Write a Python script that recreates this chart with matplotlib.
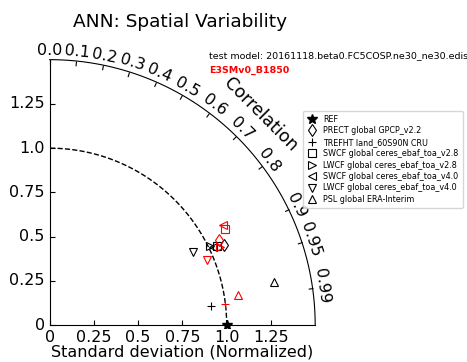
import numpy as np
import matplotlib
matplotlib.use("Agg")
import matplotlib.pyplot as plt
from matplotlib.projections import PolarAxes
import mpl_toolkits.axisartist.floating_axes as FA
import mpl_toolkits.axisartist.grid_finder as GF

# ---------------- data ----------------
variables = ["PRECT global GPCP_v2.2", "TREFHT land_60S90N CRU",
             "SWCF global ceres_ebaf_toa_v2.8", "LWCF global ceres_ebaf_toa_v2.8",
             "SWCF global ceres_ebaf_toa_v4.0", "LWCF global ceres_ebaf_toa_v4.0",
             "PSL global ERA-Interim"]
markers = ["d", "+", "s", ">", "<", "v", "^"]

test_std = [1.086, 0.916, 1.043, 1.007, 1.023, 0.909, 1.292]
test_corr = [0.908, 0.993, 0.904, 0.897, 0.902, 0.889, 0.982]

ref_model_std = [1.074, 0.996, 1.132, 1.057, 1.131, 0.961, 1.076]
ref_model_corr = [0.893, 0.993, 0.877, 0.909, 0.866, 0.923, 0.987]

corr_ticks = [0.0, 0.1, 0.2, 0.3, 0.4, 0.5, 0.6, 0.7, 0.8, 0.9, 0.95, 0.99]
std_ticks = [0, 0.25, 0.5, 0.75, 1.0, 1.25]
std_labels = ["0", "0.25", "0.5", "0.75", "1.0", "1.25"]
refstd = 1.0
smax = 1.5

# ---------------- figure ----------------
fig = plt.figure(figsize=(4.67, 3.62), dpi=100)

tr = PolarAxes.PolarTransform(apply_theta_transforms=False)
tlocs = np.arccos(corr_ticks)
gl1 = GF.FixedLocator(tlocs)
tf1 = GF.DictFormatter(dict(zip(tlocs, map(str, corr_ticks))))
gl2 = GF.FixedLocator(std_ticks)
tf2 = GF.DictFormatter(dict(zip(std_ticks, std_labels)))

ghelper = FA.GridHelperCurveLinear(tr, extremes=(0, np.pi / 2, 0, smax),
                                   grid_locator1=gl1, tick_formatter1=tf1,
                                   grid_locator2=gl2, tick_formatter2=tf2)

ax = fig.add_axes([0.1006, 0.0939, 0.580, 0.749],
                  axes_class=FA.FloatingAxes, grid_helper=ghelper)

fs = 11.5
ax.axis["top"].set_axis_direction("bottom")
ax.axis["top"].toggle(ticklabels=True, label=True)
ax.axis["top"].major_ticklabels.set_axis_direction("top")
ax.axis["top"].label.set_axis_direction("top")
ax.axis["top"].label.set_text("Correlation")
ax.axis["top"].label.set_fontsize(fs + 1)
ax.axis["top"].major_ticklabels.set_fontsize(fs)

ax.axis["left"].set_axis_direction("bottom")
ax.axis["left"].label.set_text("Standard deviation (Normalized)")
ax.axis["left"].label.set_fontsize(fs)
ax.axis["left"].label.set_pad(2)
ax.axis["left"].major_ticklabels.set_fontsize(fs)

ax.axis["right"].set_axis_direction("top")
ax.axis["right"].toggle(ticklabels=True)
ax.axis["right"].major_ticklabels.set_axis_direction("left")
ax.axis["right"].major_ticklabels.set_fontsize(fs)

ax.axis["bottom"].set_visible(False)

pax = ax.get_aux_axes(tr)

# reference point and contour
pax.plot([0], [refstd], "k*", ls="", ms=7, label="REF")
t = np.linspace(0, np.pi / 2, 100)
pax.plot(t, np.zeros_like(t) + refstd, "k--", lw=1, label="_")

for i, name in enumerate(variables):
    pax.plot(np.arccos(test_corr[i]), test_std[i], marker=markers[i], ls="",
             ms=6, mfc="none", mec="k", color="k", mew=0.8, label=name)
for i, name in enumerate(variables):
    pax.plot(np.arccos(ref_model_corr[i]), ref_model_std[i], marker=markers[i], ls="",
             ms=6, mfc="none", mec="r", color="r", mew=0.8, label="_")

fig.legend(*pax.get_legend_handles_labels(), loc="upper right",
           bbox_to_anchor=(0.999, 0.705), fontsize=5.8, numpoints=1,
           frameon=True, handlelength=1.2, borderpad=0.5, labelspacing=0.3)

fig.text(0.385, 0.94, "ANN: Spatial Variability", ha="center", va="center", fontsize=13.3)
fig.text(0.447, 0.845, "test model: 20161118.beta0.FC5COSP.ne30_ne30.edis",
         ha="left", va="center", fontsize=6.8)
fig.text(0.447, 0.805, "E3SMv0_B1850", ha="left", va="center", fontsize=6.8,
         color="red", fontweight="bold")

fig.savefig("out.png", dpi=100)
